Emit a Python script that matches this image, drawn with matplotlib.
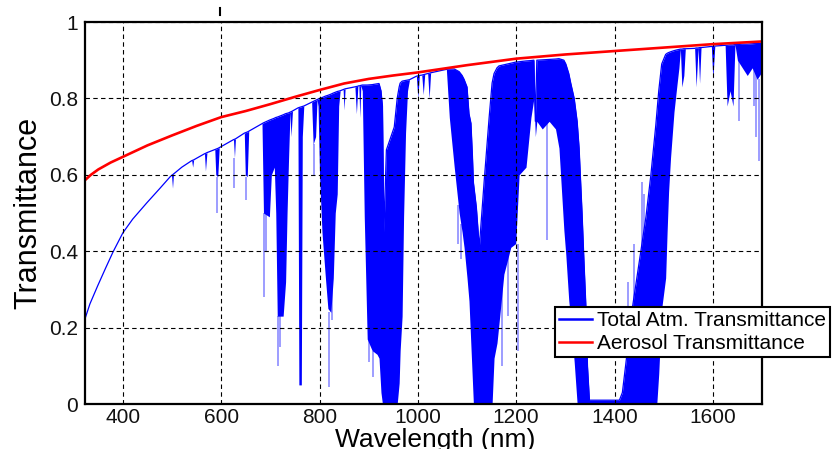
import numpy as np
import matplotlib
matplotlib.use("Agg")
import matplotlib.pyplot as plt
from matplotlib.lines import Line2D

plt.rcParams['font.family'] = ['Liberation Sans', 'DejaVu Sans']

# total atmospheric transmittance: wavelength, upper envelope, lower envelope of the dense spectrum
wl = [323, 333, 349, 365, 380, 400, 420, 449, 475, 497, 499, 501, 503, 520, 540, 542, 544,
      566, 568, 571, 587, 589, 593, 596, 625, 627, 629, 647, 649, 653, 656, 683, 686, 698,
      702, 708, 711, 714, 726, 731, 734, 737, 740, 742, 745, 756, 758, 763, 765, 768, 784,
      787, 792, 795, 797, 800, 805, 812, 817, 823, 828, 832, 836, 839, 842, 848, 850, 852,
      872, 875, 878, 880, 882, 884, 887, 891, 897, 907, 917, 921, 925, 928, 931, 936, 952,
      958, 962, 964, 968, 971, 975, 979, 983, 997, 1000, 1003, 1008, 1011, 1014, 1020, 1023,
      1026, 1058, 1064, 1074, 1084, 1090, 1094, 1100, 1104, 1108, 1111, 1113, 1119, 1125,
      1135, 1145, 1151, 1155, 1161, 1165, 1175, 1189, 1199, 1206, 1220, 1230, 1236, 1239,
      1242, 1253, 1267, 1280, 1287, 1297, 1301, 1307, 1311, 1318, 1324, 1328, 1334, 1338,
      1342, 1345, 1349, 1400, 1410, 1416, 1423, 1435, 1450, 1464, 1474, 1484, 1486, 1490,
      1496, 1504, 1507, 1510, 1514, 1521, 1527, 1531, 1534, 1537, 1541, 1544, 1563, 1566,
      1570, 1573, 1576, 1597, 1600, 1604, 1625, 1629, 1635, 1641, 1645, 1650, 1660, 1670,
      1680, 1690, 1700]
t_hi = [.223, .262, .31, .356, .398, .448, .484, .527, .564, .596, .598, .600, .602, .62, .637,
        .638, .639, .655, .656, .658, .666, .667, .669, .671, .692, .693, .694, .709, .710,
        .712, .714, .734, .736, .743, .745, .748, .750, .751, .757, .76, .761, .762, .764,
        .765, .767, .775, .776, .778, .779, .780, .790, .792, .795, .797, .798, .80, .802,
        .806, .808, .811, .814, .816, .818, .819, .820, .823, .824, .825, .830, .831, .832,
        .833, .833, .834, .835, .835, .835, .836, .838, .839, .82, .78, .45, .665, .725,
        .80, .83, .84, .845, .846, .847, .848, .849, .858, .859, .86, .861, .862, .863, .865,
        .866, .867, .876, .877, .877, .87, .86, .85, .83, .76, .735, .65, .58, .515, .41,
        .585, .75, .84, .865, .88, .885, .888, .892, .895, .896, .898, .899, .90, .74,
        .90, .901, .902, .903, .904, .90, .89, .865, .84, .80, .74, .67, .50, .37,
        .25, .10, .01, .01, .01, .03, .105, .24, .37, .49, .60, .73, .76, .82,
        .89, .915, .918, .92, .922, .925, .927, .928, .929, .929, .930, .930, .931, .932,
        .932, .933, .933, .936, .936, .937, .939, .939, .940, .940, .941, .941, .942, .942,
        .943, .944, .944]
t_lo = [.223, .262, .31, .356, .398, .448, .484, .527, .564, .596, .598, .565, .602, .62, .637,
        .62, .639, .655, .61, .658, .666, .60, .595, .671, .692, .645, .694, .709, .60,
        .595, .714, .734, .50, .49, .60, .62, .50, .23, .23, .32, .50, .64, .764,
        .70, .767, .775, .05, .05, .70, .780, .790, .68, .70, .797, .78, .60, .45,
        .33, .25, .24, .33, .50, .55, .78, .820, .823, .77, .825, .830, .76, .832,
        .833, .75, .834, .82, .49, .17, .14, .13, .12, .03, 0, 0, 0, 0,
        0, .055, .14, .23, .49, .71, .82, .849, .858, .80, .86, .861, .81, .863, .865,
        .80, .867, .876, .75, .62, .50, .45, .41, .33, .27, .15, .06, 0, 0, 0,
        0, 0, 0, .12, .16, .21, .34, .41, .42, .60, .62, .75, .80, .70,
        .74, .72, .74, .72, .67, .455, .39, .27, .22, .11, 0, 0, 0, 0,
        0, 0, 0, 0, 0, 0, 0, 0, 0, 0, 0, 0, 0, .08,
        .25, .33, .45, .555, .645, .765, .835, .88, .929, .83, .86, .930, .931, .83,
        .932, .84, .933, .936, .85, .937, .939, .78, .82, .78, .941, .90, .88, .86,
        .88, .85, .87]

# faint single absorption lines: wavelength, start, end
line_wl = [591, 627, 651, 688, 691, 716, 720, 789, 820, 826, 901, 909, 1082, 1088, 1172,
           1183, 1203, 1262, 1427, 1439, 1455, 1460, 1653, 1683, 1687, 1693]
line_a = [.595, .645, .595, .50, .50, .23, .23, .68, .24, .33, .17, .14, .52, .47, .32,
          .40, .42, .74, 0, 0, 0, 0, .90, .88, .87, .85]
line_b = [.50, .565, .535, .28, .40, .10, .15, .60, .045, .22, .11, .07, .42, .38, .10,
          .23, .14, .43, .32, .42, .58, .55, .74, .78, .70, .635]

# aerosol transmittance
aer_wl = [323, 335, 350, 375, 400, 450, 500, 550, 600, 650, 700, 750, 800, 850, 900, 950,
          1000, 1100, 1200, 1300, 1400, 1500, 1600, 1700]
aer_t = [.586, .600, .614, .632, .647, .677, .703, .728, .751, .767, .785, .804, .822, .839,
         .851, .860, .868, .887, .904, .915, .924, .933, .942, .949]

fig = plt.figure(figsize=(8.33, 4.49), dpi=100)
ax = fig.add_axes([85 / 833, 1 - 404 / 449, 677 / 833, 382 / 449])

blue = '#0000ff'
ax.fill_between(wl, t_lo, t_hi, color=blue, lw=0, zorder=2)
ax.plot(wl, t_hi, color=blue, lw=0.9, zorder=2)
ax.vlines(line_wl, line_a, line_b, color=blue, alpha=0.45, lw=1.2, zorder=2)
ax.plot(aer_wl, aer_t, color='#ff0000', lw=1.9, zorder=3)

ax.set_xlim(323, 1700)
ax.set_ylim(0, 1)
ax.set_xticks([400, 600, 800, 1000, 1200, 1400, 1600])
ax.set_yticks([0, 0.2, 0.4, 0.6, 0.8, 1])
ax.set_yticklabels(['0', '0.2', '0.4', '0.6', '0.8', '1'])
ax.tick_params(length=0, labelsize=15, pad=5, colors='#111111')
ax.tick_params(axis='x', pad=3)
ax.grid(True, color='black', ls=(0, (4, 3)), lw=0.8, zorder=4)
ax.set_axisbelow(False)
for s in ax.spines.values():
    s.set_linewidth(1.6)
    s.set_zorder(5)

ax.set_xlabel('Wavelength (nm)', fontsize=19)
ax.xaxis.set_label_coords(0.518, -0.064, transform=ax.transAxes)
ax.xaxis.label.set_va('top')
ax.set_ylabel('Transmittance', fontsize=22, labelpad=4)

handles = [Line2D([], [], color=blue, lw=1.8), Line2D([], [], color='#ff0000', lw=1.8)]
leg = ax.legend(handles, ['Total Atm. Transmittance', 'Aerosol Transmittance'],
                loc='upper left', bbox_to_anchor=(0.694, 0.254), borderaxespad=0,
                fontsize=15, fancybox=False, framealpha=1, edgecolor='black',
                handlelength=1.6, handletextpad=0.2, borderpad=0.2, labelspacing=0.2)
leg.get_frame().set_linewidth(1.5)
leg.set_zorder(10)

# small stray mark above the plot
fig.add_artist(Line2D([220 / 833, 220 / 833], [1 - 8 / 449, 1 - 15 / 449], color='black', lw=1.5))

plt.savefig('out.png', dpi=100)
